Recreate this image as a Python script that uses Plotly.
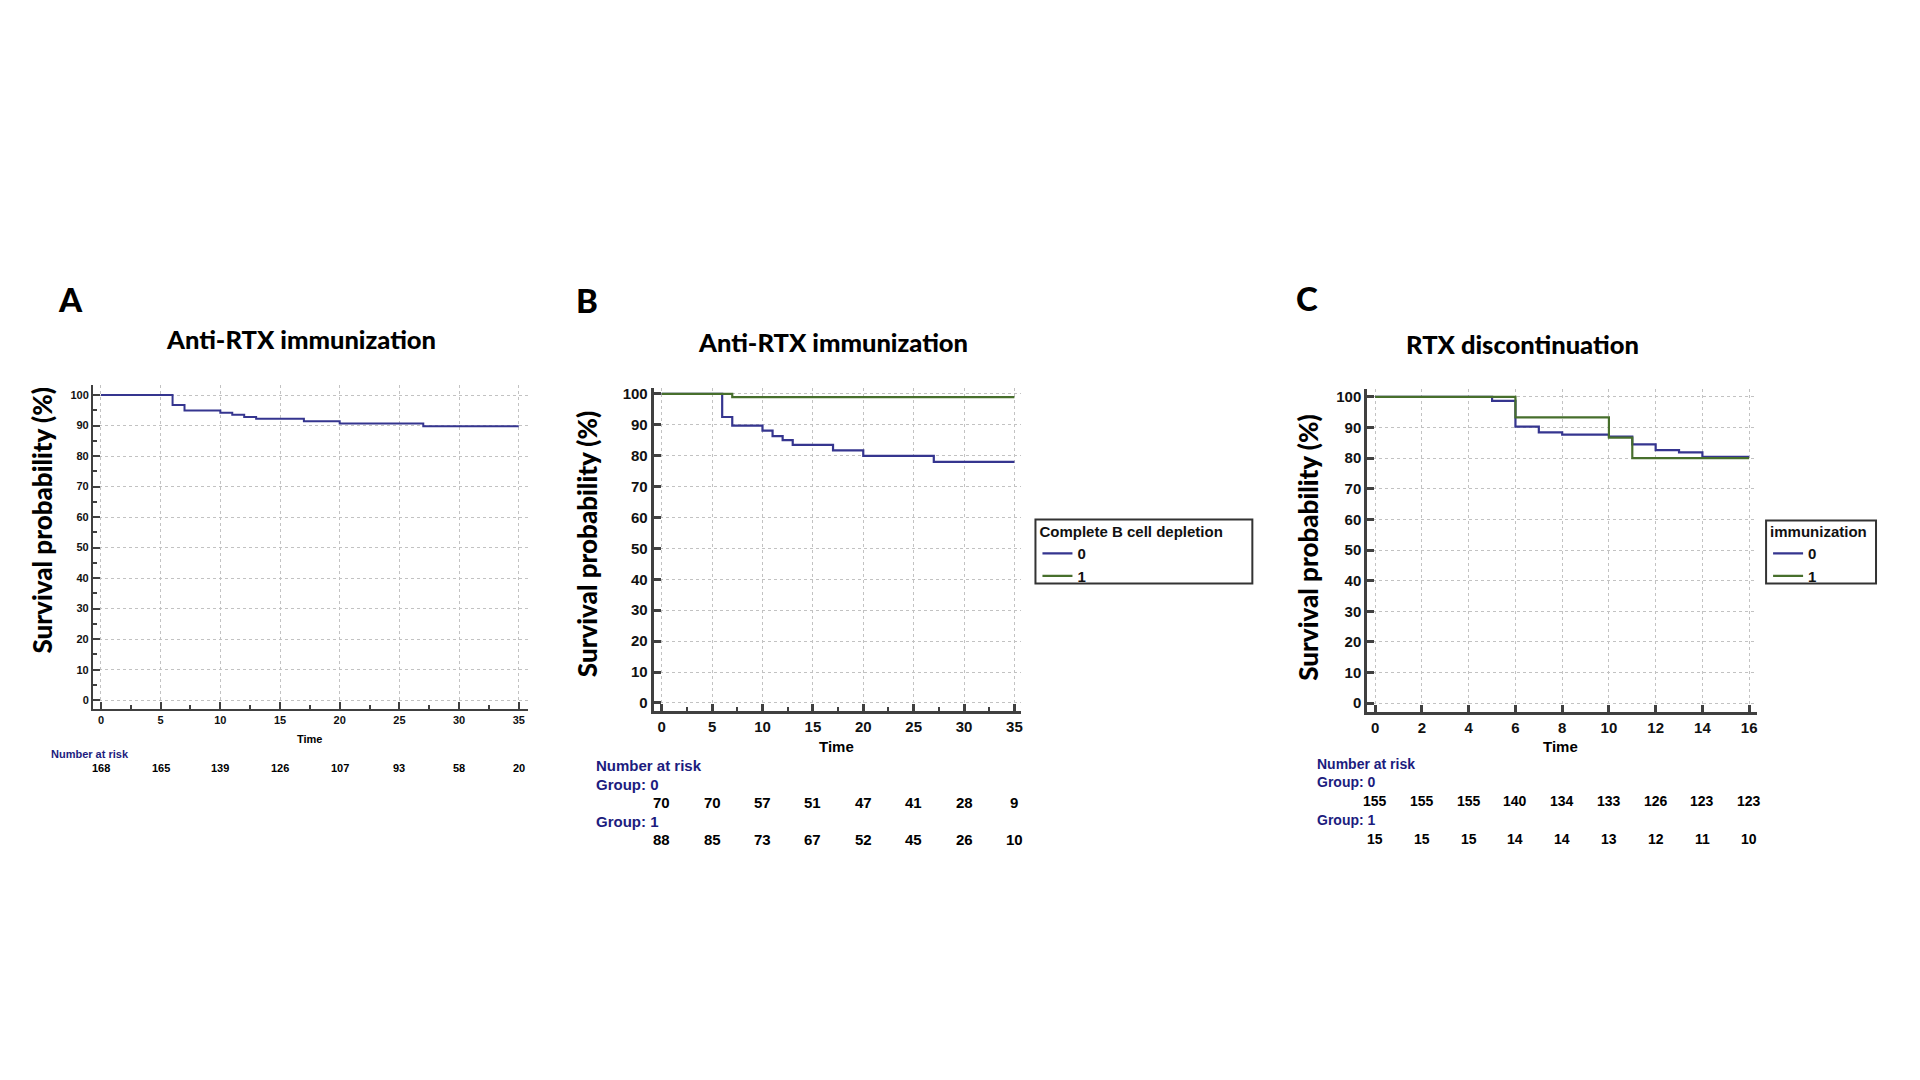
import plotly.graph_objects as go

# ---------------- data ----------------
A_time = [0, 6, 7, 10, 11, 12, 13, 17, 20, 27, 35]
A_surv = [100, 96.7, 94.9, 94.2, 93.5, 92.8, 92.2, 91.4, 90.7, 89.8, 89.8]

B0_time = [0, 6, 7, 10, 11, 12, 13, 17, 20, 27, 35]
B0_surv = [100, 92.5, 89.7, 88.1, 86.3, 85.0, 83.5, 81.7, 79.9, 78.0, 78.0]
B1_time = [0, 7, 35]
B1_surv = [100, 98.9, 98.9]

C0_time = [0, 5, 6, 7, 8, 10, 11, 12, 13, 14, 16]
C0_surv = [100, 98.7, 90.3, 88.4, 87.7, 87.0, 84.5, 82.6, 81.9, 80.4, 80.4]
C1_time = [0, 6, 10, 11, 16]
C1_surv = [100, 93.3, 86.7, 80.0, 80.0]

AB_risk_times = [0, 5, 10, 15, 20, 25, 30, 35]
A_risk = [168, 165, 139, 126, 107, 93, 58, 20]
B_risk0 = [70, 70, 57, 51, 47, 41, 28, 9]
B_risk1 = [88, 85, 73, 67, 52, 45, 26, 10]
C_risk_times = [0, 2, 4, 6, 8, 10, 12, 14, 16]
C_risk0 = [155, 155, 155, 140, 134, 133, 126, 123, 123]
C_risk1 = [15, 15, 15, 14, 14, 13, 12, 11, 10]

panel_letters = ["A", "B", "C"]
panel_titles = ["Anti-RTX immunization", "Anti-RTX immunization", "RTX discontinuation"]
legend_titles = ["Complete B cell depletion", "immunization"]
group_names = ["0", "1"]

# ---------------- style ----------------
W, H = 1920, 1080
BLUE = "#35358f"
GREEN = "#476f2c"
NAVY = "#1c1c7e"
AXC = "#404040"
GRID = "#c2c2c2"
HUM = "Lato, 'Open Sans', sans-serif"
NAR = "'Liberation Sans Narrow', 'Arial Narrow', 'Liberation Sans', Arial, sans-serif"


def px(x):
    return x / W


def py(y):
    return 1 - y / H


fig = go.Figure()

fig.add_trace(go.Scatter(x=A_time, y=A_surv, mode="lines", line=dict(color=BLUE, width=2, shape="hv"),
                         xaxis="x", yaxis="y", showlegend=False, hoverinfo="skip"))
fig.add_trace(go.Scatter(x=B0_time, y=B0_surv, mode="lines", line=dict(color=BLUE, width=2.2, shape="hv"),
                         xaxis="x2", yaxis="y2", name=group_names[0], legend="legend"))
fig.add_trace(go.Scatter(x=B1_time, y=B1_surv, mode="lines", line=dict(color=GREEN, width=2.2, shape="hv"),
                         xaxis="x2", yaxis="y2", name=group_names[1], legend="legend"))
fig.add_trace(go.Scatter(x=C0_time, y=C0_surv, mode="lines", line=dict(color=BLUE, width=2.2, shape="hv"),
                         xaxis="x3", yaxis="y3", name=group_names[0], legend="legend2"))
fig.add_trace(go.Scatter(x=C1_time, y=C1_surv, mode="lines", line=dict(color=GREEN, width=2.2, shape="hv"),
                         xaxis="x3", yaxis="y3", name=group_names[1], legend="legend2"))


def xax(domain, rng, dtick, minor, fs, lw):
    d = dict(domain=domain, range=rng, dtick=dtick, tick0=0, showline=True, linecolor=AXC, linewidth=lw,
             ticks="inside", ticklen=7, tickwidth=lw, tickcolor=AXC, showgrid=True, gridcolor=GRID,
             griddash="dot", gridwidth=1, zeroline=False, fixedrange=True,
             tickfont=dict(family=NAR, size=fs, color="#111111", weight="bold"))
    if minor:
        d["minor"] = dict(dtick=minor, ticks="inside", ticklen=4, tickwidth=1.5, tickcolor=AXC, showgrid=False)
    return d


def yax(domain, rng, minor, fs, lw, anchor):
    d = dict(domain=domain, range=rng, dtick=10, tick0=0, showline=True, linecolor=AXC, linewidth=lw,
             ticks="inside", ticklen=7, tickwidth=lw, tickcolor=AXC, showgrid=True, gridcolor=GRID,
             griddash="dot", gridwidth=1, zeroline=False, fixedrange=True, anchor=anchor,
             tickfont=dict(family=NAR, size=fs, color="#111111", weight="bold"))
    if minor:
        d["minor"] = dict(dtick=minor, ticks="inside", ticklen=4, tickwidth=1.5, tickcolor=AXC, showgrid=False)
    return d


def legend_cfg(x, y, title):
    return dict(x=px(x), y=py(y), xanchor="left", yanchor="top", bgcolor="rgba(0,0,0,0)",
                borderwidth=0, tracegroupgap=0, itemwidth=30,
                title=dict(text="<b>" + title + "</b>", font=dict(family=NAR, size=15, color="#111")),
                font=dict(family=NAR, size=15, color="#111", weight="bold"))


fig.update_layout(
    width=W, height=H, margin=dict(l=0, r=0, t=0, b=0),
    paper_bgcolor="white", plot_bgcolor="white",
    xaxis=dict(xax([px(93), px(528)], [-0.67, 35.75], 5, 2.5, 11, 2), anchor="y"),
    yaxis=yax([py(708), py(383)], [-2.9, 103.3], 5, 11, 2, "x"),
    xaxis2=dict(xax([px(654), px(1022)], [-0.8, 35.7], 5, 2.5, 15, 3), anchor="y2"),
    yaxis2=yax([py(710), py(386)], [-2.6, 101.9], None, 15, 3, "x2"),
    xaxis3=dict(xax([px(1368), px(1758)], [-0.34, 16.34], 2, None, 15, 3), anchor="y3"),
    yaxis3=yax([py(711), py(387)], [-2.9, 102.6], None, 15, 3, "x3"),
    legend=legend_cfg(1038, 516, legend_titles[0]),
    legend2=legend_cfg(1769, 516, legend_titles[1]),
)

shapes = [
    dict(type="rect", xref="paper", yref="paper", x0=px(1036), x1=px(1253), y0=py(582), y1=py(518),
         line=dict(color="#333333", width=2)),
    dict(type="rect", xref="paper", yref="paper", x0=px(1767), x1=px(1877), y0=py(582), y1=py(519),
         line=dict(color="#333333", width=2)),
]
fig.update_layout(shapes=shapes)

ann = []


def text(x, y, s, size, family=HUM, color="#000", xanchor="center", yanchor="middle", textangle=0,
         xref="paper", weight=None):
    f = dict(family=family, size=size, color=color)
    if weight:
        f["weight"] = weight
    ann.append(dict(x=x, y=y, xref=xref, yref="paper", text=s, showarrow=False, xanchor=xanchor,
                    yanchor=yanchor, textangle=textangle, font=f))


# panel letters and titles
for lx, ly, s in [(71, 297, panel_letters[0]), (587, 298, panel_letters[1]), (1308, 296, panel_letters[2])]:
    text(px(lx), py(ly), s, 33, weight=900)
for tx, ty, s in [(301, 337, panel_titles[0]), (833, 340, panel_titles[1]), (1523, 342, panel_titles[2])]:
    text(px(tx), py(ty), s, 25.5, weight=900)

# y axis titles
for ax_, ay_ in [(42, 519), (588, 543), (1309, 546)]:
    text(px(ax_), py(ay_), "Survival probability (%)", 26, textangle=-90, weight=900)

# x axis titles
text(px(310), py(738), "<b>Time</b>", 11, family=NAR)
text(px(837), py(746), "<b>Time</b>", 15, family=NAR)
text(px(1561), py(746), "<b>Time</b>", 15, family=NAR)

# numbers at risk - panel A
text(px(49), py(753), "<b>Number at risk</b>", 11, family=NAR, color=NAVY, xanchor="left")
for t, n in zip(AB_risk_times, A_risk):
    text(t, py(767), "<b>%d</b>" % n, 11, family=NAR, xref="x")

# panel B
text(px(594), py(765), "<b>Number at risk</b>", 15, family=NAR, color=NAVY, xanchor="left")
text(px(594), py(784), "<b>Group: 0</b>", 15, family=NAR, color=NAVY, xanchor="left")
text(px(594), py(821), "<b>Group: 1</b>", 15, family=NAR, color=NAVY, xanchor="left")
for t, n0, n1 in zip(AB_risk_times, B_risk0, B_risk1):
    text(t, py(802), "<b>%d</b>" % n0, 15, family=NAR, xref="x2")
    text(t, py(839), "<b>%d</b>" % n1, 15, family=NAR, xref="x2")

# panel C
text(px(1316), py(763), "<b>Number at risk</b>", 14, family=NAR, color=NAVY, xanchor="left")
text(px(1316), py(781), "<b>Group: 0</b>", 14, family=NAR, color=NAVY, xanchor="left")
text(px(1316), py(819), "<b>Group: 1</b>", 14, family=NAR, color=NAVY, xanchor="left")
for t, n0, n1 in zip(C_risk_times, C_risk0, C_risk1):
    text(t, py(800), "<b>%d</b>" % n0, 14, family=NAR, xref="x3")
    text(t, py(838), "<b>%d</b>" % n1, 14, family=NAR, xref="x3")

fig.update_layout(annotations=ann)

fig.write_html("out.html", config={"displayModeBar": False},
               post_script="document.body.style.margin='0';document.body.style.overflow='hidden';")
